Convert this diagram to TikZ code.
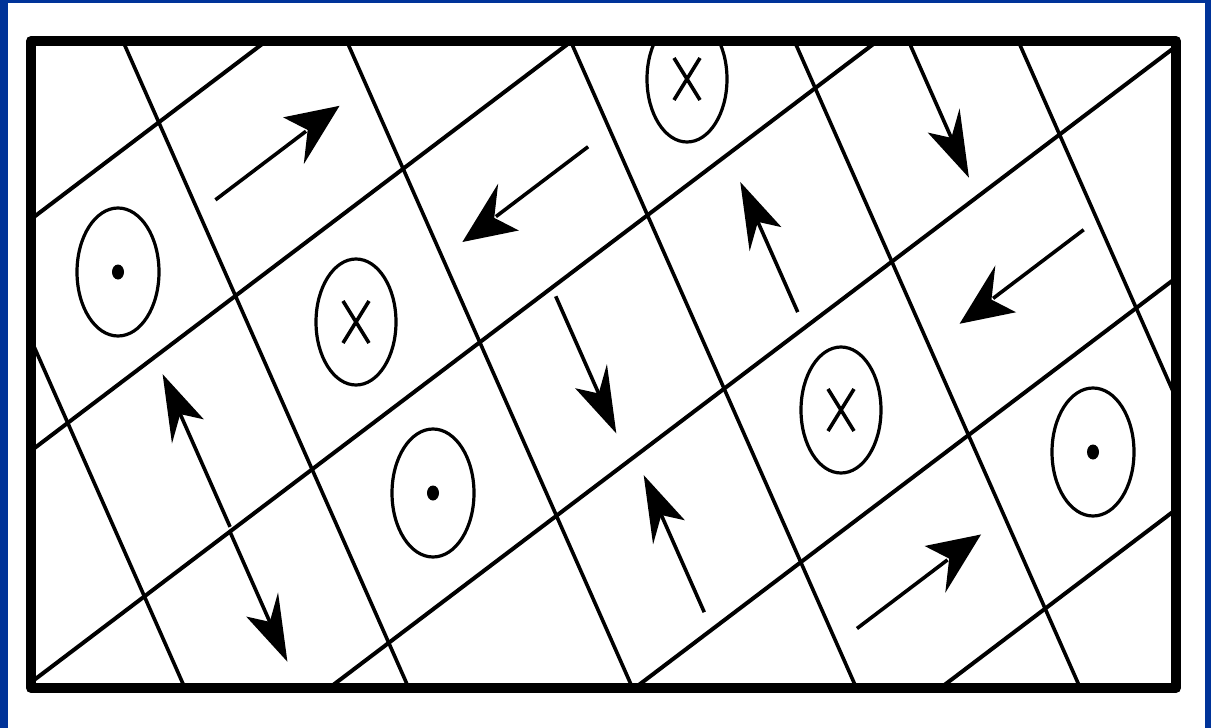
\documentclass[tikz,border=0pt]{standalone}
\usepackage{tikz}
\definecolor{bordblue}{RGB}{0,51,153}
\tikzset{
  gridR/.style={line width=4pt},
  gridS/.style={line width=3.6pt},
  shaftline/.style={line width=3.6pt},
  circline/.style={line width=3.2pt},
  xmarkline/.style={line width=3.6pt},
  framebox/.style={line width=10pt}
}
% arrow along +A (to the right in lattice): tail a, tip a, row b
\newcommand\arrR[3]{%
  \draw[shaftline] (#1,#3) -- ({#2-0.2},#3);
  \fill ({#2},#3) -- ({#2-0.275},{#3-0.135}) -- ({#2-0.19},#3) -- ({#2-0.275},{#3+0.135}) -- cycle;}
% arrow along -A
\newcommand\arrL[3]{%
  \draw[shaftline] (#1,#3) -- ({#2+0.2},#3);
  \fill ({#2},#3) -- ({#2+0.275},{#3-0.135}) -- ({#2+0.19},#3) -- ({#2+0.275},{#3+0.135}) -- cycle;}
% arrow along +B (down): column a, tail b, tip b
\newcommand\arrD[3]{%
  \draw[shaftline] (#1,#2) -- (#1,{#3-0.22});
  \fill (#1,#3) -- ({#1-0.095},{#3-0.33}) -- (#1,{#3-0.23}) -- ({#1+0.095},{#3-0.33}) -- cycle;}
% arrow along -B (up)
\newcommand\arrU[3]{%
  \draw[shaftline] (#1,#2) -- (#1,{#3+0.22});
  \fill (#1,#3) -- ({#1-0.095},{#3+0.33}) -- (#1,{#3+0.23}) -- ({#1+0.095},{#3+0.33}) -- cycle;}
\newcommand\dotcirc[2]{%
  \draw[circline] (#1,-#2) ellipse [x radius=41, y radius=64];
  \fill (#1,-#2) ellipse [x radius=6, y radius=7.5];}
\newcommand\crosscirc[2]{%
  \draw[circline] (#1,-#2) ellipse [x radius=40, y radius=63];
  \draw[xmarkline] ({#1-13},{-#2-21}) -- ({#1+13},{-#2+21});
  \draw[xmarkline] ({#1-13},{-#2+21}) -- ({#1+13},{-#2-21});}
\begin{document}
\begin{tikzpicture}[x=1pt,y=1pt,line join=round]
\useasboundingbox (0,0) rectangle (1211,-728);
\fill[white] (0,0) rectangle (1211,-728);
\fill[bordblue] (0,0) rectangle (8,-728);
\fill[bordblue] (0,0) rectangle (1211,-3);
\fill[bordblue] (1205,0) rectangle (1211,-728);
\begin{scope}
  \clip (31,-41) rectangle (1176,-688);
  \begin{scope}[cm={167.7,127.07,76.65,-173.5,(-85.55,-75.91)}]
    \foreach \j in {1,...,6} \draw[gridR] (-1,\j) -- (7,\j);
    \foreach \i in {0,...,5} \draw[gridS] (\i,-1) -- (\i,8);
    \arrR{1.10}{1.84}{1.52}
    \arrL{2.87}{2.12}{2.51}
    \arrL{4.92}{4.18}{4.49}
    \arrR{3.12}{3.86}{5.47}
    \arrU{0.52}{2.98}{2.10}
    \arrD{2.43}{3.05}{3.84}
    \arrD{0.51}{3.00}{3.75}
    \arrU{2.47}{4.90}{4.11}
    \arrU{3.48}{3.91}{3.16}
    \arrD{4.51}{3.05}{3.89}
  \end{scope}
  \dotcirc{118}{272}
  \crosscirc{356}{322}
  \crosscirc{687}{79}
  \dotcirc{433}{493}
  \crosscirc{841}{410}
  \dotcirc{1093}{452}
\end{scope}
\draw[framebox] (31,-41) rectangle (1176,-688);
\end{tikzpicture}
\end{document}
